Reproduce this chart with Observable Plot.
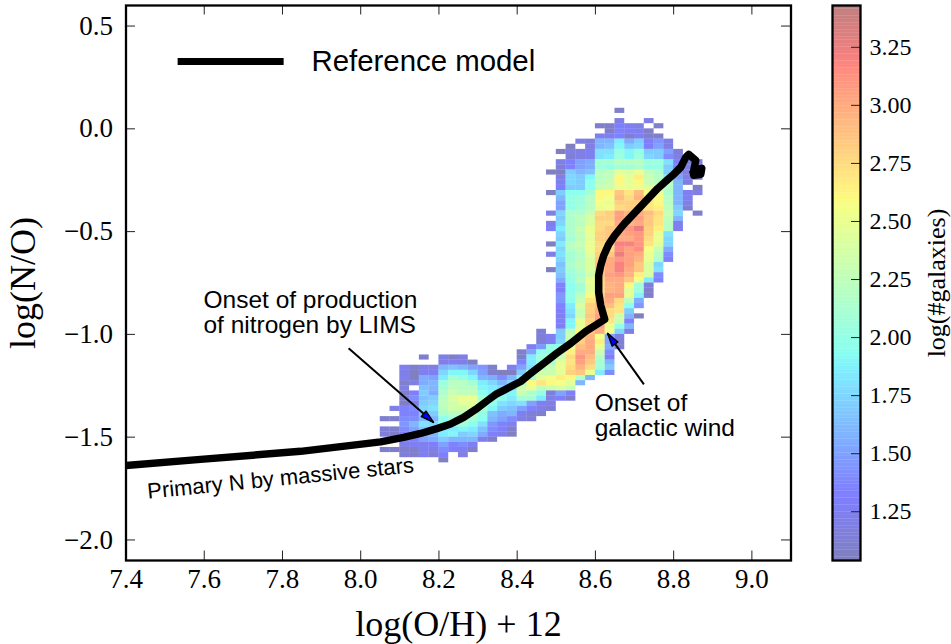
<!DOCTYPE html>
<html><head><meta charset="utf-8">
<script src="https://cdn.jsdelivr.net/npm/d3@7"></script>
<script src="https://cdn.jsdelivr.net/npm/@observablehq/plot@0.6"></script>
<style>
html,body{margin:0;padding:0;background:#fff}
#wrap{position:relative;width:951px;height:644px;overflow:hidden}
#wrap svg{position:absolute;left:0;top:0;background:transparent}
</style></head><body><div id="wrap"></div>
<script>
const xTicks=[7.4,7.6,7.8,8.0,8.2,8.4,8.6,8.8,9.0];
const yTicks=[-2,-1.5,-1,-0.5,0,0.5];
const barTicks=[1.25,1.5,1.75,2,2.25,2.5,2.75,3,3.25];
const binSize=0.025;
// [top edge of row, left edge of first cell, log counts left to right]
const rowsUpper=[
[0.1,8.65,[1.1]],
[0.05,8.65,[1.2,null,null,1.2]],
[0.025,8.6,[1.1,1.1,1.3,1.25,1.2,null,1.1]],
[0,8.625,[1.1,1.35,1.3,1.25,1.1]],
[-0.025,8.6,[1.25,1.25,1.35,1.1,1.25,1.1,1.1]],
[-0.05,8.55,[1.2,1.15,1.6,1.6,1.85,1.55,1.7,1.3,1.45,1.2]],
[-0.075,8.525,[1.05,null,1.2,1.6,1.65,1.9,1.7,1.75,1.3,1.5,1.2]],
[-0.1,8.5,[1.05,1.2,1.2,1.25,1.8,1.8,2.0,1.9,2.0,1.7,1.7,1.5,1.15]],
[-0.125,8.525,[1.15,1.2,1.25,1.8,1.85,2.05,1.9,2.05,1.75,1.7,1.4,1.2]],
[-0.15,8.5,[1.2,1.3,1.5,1.55,2.1,2.1,2.2,2.2,2.2,2.05,2.05,1.8,1.3,1.2,1.2]],
[-0.175,8.5,[1.15,1.35,1.5,1.55,2.05,2.0,2.1,2.1,2.15,2.0,2.0,1.7,1.3,1.2,1.2]],
[-0.2,8.475,[1.05,1.05,1.7,1.6,1.65,2.2,2.25,2.45,2.4,2.5,2.25,2.15,1.7,1.4,1.2,1.2]],
[-0.225,8.5,[1.2,1.75,1.7,1.9,2.2,2.25,2.6,2.45,2.65,2.3,2.2,1.85,1.5,1.2,1.1]],
[-0.25,8.5,[1.25,1.75,1.7,1.95,2.25,2.3,2.6,2.45,2.6,2.3,2.2,2.2,1.6,1.15]],
[-0.275,8.5,[1.3,1.7,1.7,1.95,2.3,2.35,2.5,2.5,2.5,2.45,2.4,2.2,1.6,null,1.05]],
[-0.3,8.475,[1.05,1.7,1.95,1.95,2.1,2.6,2.6,2.85,2.7,2.9,2.55,2.5,2.15,1.6,1.25,1.2]],
[-0.325,8.5,[1.6,2.0,2.05,2.2,2.6,2.55,2.9,2.75,2.95,2.65,2.6,2.2,1.6,1.25]],
[-0.35,8.5,[1.5,2.0,2.05,2.2,2.55,2.5,2.8,2.8,2.8,2.7,2.6,2.2,1.6,1.2]],
[-0.375,8.5,[1.5,2.0,2.1,2.2,2.5,2.55,2.75,2.8,2.8,2.7,2.65,2.25,1.7,1.1]],
[-0.4,8.475,[1.2,1.75,2.15,2.15,2.3,2.75,2.8,3.05,2.95,3.0,2.9,2.75,2.3,1.75,null,1.1]],
[-0.425,8.5,[1.7,2.15,2.25,2.4,2.8,2.8,3.05,3.0,3.05,2.85,2.7,2.25,1.6]],
[-0.45,8.475,[1.2,1.75,2.15,2.2,2.4,2.75,2.75,3.0,2.95,3.0,2.85,2.7,2.2,1.25]],
[-0.475,8.475,[1.3,1.85,2.15,2.3,2.5,2.75,2.85,2.9,3.1,3.25,2.8,2.65,2.2,1.25]],
[-0.5,8.5,[1.75,2.15,2.25,2.5,2.8,2.85,3.0,3.05,3.1,2.8,2.5,1.8]],
[-0.525,8.5,[1.7,2.1,2.25,2.45,2.8,2.85,3.0,3.0,3.1,2.75,2.5,1.75]],
[-0.55,8.475,[1.05,1.85,2.2,2.3,2.5,2.75,2.75,3.2,3.2,3.1,2.7,2.45,1.75]],
[-0.575,8.5,[1.75,2.2,2.25,2.5,2.75,2.75,3.15,3.05,3.15,2.55,2.3,1.55]],
[-0.6,8.475,[1.2,1.8,2.1,2.2,2.45,2.8,2.85,3.25,3.05,3.0,2.5,2.2,1.4]],
[-0.625,8.5,[1.75,2.1,2.2,2.4,2.85,3.0,3.1,3.05,2.95,2.5,2.15,1.35]],
[-0.65,8.5,[1.65,2.15,2.25,2.4,2.85,3.0,3.2,3.05,2.85,2.4,1.75]],
[-0.675,8.475,[1.05,1.7,2.1,2.2,2.4,2.85,3.0,3.2,3.0,2.85,2.4,1.8]],
[-0.7,8.5,[1.65,2.05,2.15,2.35,2.85,3.05,3.1,2.95,2.65,2.4,1.4]],
[-0.725,8.5,[1.55,2.0,2.2,2.5,2.75,3.0,3.0,2.85,2.55,1.85,1.35]]
];
const rowsArm=[
[-0.75,8.5,[1.35,1.95,2.1,2.45,2.75,2.95,3.0,2.6,2.05,1.15]],
[-0.775,8.5,[1.3,1.95,2.1,2.45,2.75,2.95,3.0,2.45,2.05,1.1]],
[-0.8,8.5,[1.45,2.0,2.2,2.6,2.8,3.05,3.05,2.5,1.9,1.1]],
[-0.825,8.5,[1.45,1.95,2.3,2.7,2.85,3.0,2.75,2.2,1.55]],
[-0.85,8.5,[1.35,1.85,2.4,2.8,2.9,2.9,2.7,1.95,1.45]],
[-0.875,8.5,[1.3,1.8,2.3,2.8,3.0,2.75,2.7,1.7]],
[-0.9,8.5,[1.25,1.75,2.3,2.85,3.05,2.75,2.35,1.6,1.05]],
[-0.925,8.5,[1.3,1.9,2.5,2.8,3.1,2.7,2.3,1.35]],
[-0.95,8.5,[1.25,1.9,2.45,2.8,3.05,2.5,2.0,1.6]],
[-0.975,8.45,[1.15,null,1.7,2.25,2.6,2.9,3.0,2.55,1.75,1.2]],
[-1.0,8.45,[1.15,1.25,1.7,2.3,2.85,2.95,2.55,1.5,1.2]],
[-1.025,8.45,[1.15,1.25,1.75,2.4,2.8,3.0,2.65,1.5,1.15]],
[-1.05,8.425,[1.25,1.45,2.0,2.0,2.5,2.9,3.0,2.5,1.55,1.1]],
[-1.075,8.4,[1.1,1.5,1.95,2.0,2.3,2.65,3.0,3.0,2.3,1.4]],
[-1.1,8.15,[1.1,null,1.2,1.1,1.2,null,null,null,null,null,1.1,1.85,2.05,2.2,2.3,2.75,3.1,2.9,2.2,1.3]],
[-1.125,8.2,[1.2,1.25,1.2,1.05,null,null,null,null,1.35,1.85,2.0,2.1,2.45,2.7,3.05,2.85,2.1,1.6]],
[-1.15,8.1,[1.25,1.1,1.2,1.2,1.6,1.65,1.6,1.5,1.45,1.1,null,1.25,1.5,1.8,2.1,2.3,2.5,2.75,2.95,2.75,2.1,1.7]],
[-1.175,8.1,[1.2,1.05,1.25,1.25,1.75,1.9,1.9,1.75,1.5,1.1,1.05,1.05,1.7,2.15,2.35,2.3,2.45,2.8,2.85,2.5,1.85,1.4]]
];
const rowsLower=[
[-1.2,8.1,[1.25,1.05,1.55,1.5,1.85,2.1,2.0,1.9,1.6,1.55,1.4,1.6,1.9,2.1,2.45,2.55,2.65,2.6,2.2,1.6]],
[-1.225,8.1,[1.1,1.2,1.55,1.6,2.05,2.2,2.2,2.1,1.85,1.75,1.6,1.75,2.1,2.6,2.7,2.6,2.55,2.45,1.6]],
[-1.25,8.1,[1.2,null,1.65,1.6,2.1,2.25,2.2,2.2,1.9,1.85,1.75,1.8,2.35,2.5,2.25,2.3,2.4,2.3]],
[-1.275,8.1,[1.1,1.3,1.7,1.55,2.15,2.3,2.25,2.25,1.95,1.85,1.9,1.9,2.3,2.15,2.0,1.15,1.5,1.3]],
[-1.3,8.1,[1.1,1.4,1.65,1.7,2.2,2.4,2.5,2.5,2.1,1.95,1.95,1.85,2.1,2.1,1.85,1.2,1.3,1.1]],
[-1.325,8.1,[1.05,1.2,1.7,1.75,2.25,2.35,2.45,2.45,2.2,2.0,1.8,1.75,1.8,1.5,1.25,1.2]],
[-1.35,8.075,[1.2,1.35,1.4,1.75,1.8,2.2,2.35,2.35,2.4,2.1,1.9,1.7,1.65,1.5,1.35,1.2,1.15]],
[-1.375,8.1,[1.35,1.35,1.65,1.7,2.15,2.2,2.2,2.2,2.0,1.65,1.55,1.6,1.25,1.15,1.1]],
[-1.4,8.05,[1.1,1.1,1.4,1.4,1.6,1.6,1.95,2.1,2.15,2.1,1.95,1.6,1.5,1.4,1.2,1.15]],
[-1.425,8.1,[1.45,1.6,1.8,1.75,2.0,2.05,2.1,1.95,1.8,1.45,1.35,1.25]],
[-1.45,8.05,[1.15,1.1,1.4,1.5,1.7,1.7,1.85,1.85,1.9,1.85,1.65,1.4,1.3,1.1]],
[-1.475,8.05,[1.15,1.1,1.3,1.3,1.5,1.6,1.85,1.9,1.7,1.75,1.55,1.3,1.2,1.05]],
[-1.5,8.1,[1.3,1.35,1.5,1.55,1.7,1.6,1.6,1.6,1.25,1.1]],
[-1.525,8.1,[1.2,1.25,1.25,1.3,1.5,1.35,1.4,1.25]],
[-1.55,8.05,[1.1,1.1,1.1,1.1,1.25,1.2,1.4,1.3,1.25,1.1]],
[-1.575,8.1,[1.15,1.1,1.25,1.15,1.3,null,1.2]],
[-1.6,8.2,[1.05]]
];
const modelX=[7.4,7.5905,7.8463,8.0509,8.1097,8.1532,8.1967,8.2299,8.2453,8.2632,8.2939,8.3246,8.345,8.3655,8.409,8.4345,8.4678,8.501,8.5368,8.5752,8.6238,8.6136,8.6084,8.6084,8.6136,8.6212,8.634,8.6494,8.6724,8.7159,8.7593,8.7824,8.8003,8.8182,8.8309,8.8386,8.8565,8.8514,8.8719,8.8693,8.8514,8.8488];
const modelY=[-1.6375,-1.608,-1.569,-1.523,-1.501,-1.482,-1.457,-1.436,-1.421,-1.404,-1.365,-1.321,-1.292,-1.272,-1.229,-1.19,-1.141,-1.092,-1.044,-0.985,-0.927,-0.859,-0.796,-0.713,-0.664,-0.616,-0.562,-0.518,-0.465,-0.377,-0.29,-0.251,-0.221,-0.187,-0.139,-0.124,-0.153,-0.202,-0.192,-0.221,-0.226,-0.202];
const legendX=[7.532,7.803],legendY=[0.328,0.328];
const arrowsTail=[[7.969,-1.068],[8.724,-1.243]];
const arrowsTip=[[8.186,-1.428],[8.631,-0.995]];
const arrowsAngle=[131,-35];
const notes=[
{x:7.598,y:-0.893,t:"Onset of production\nof nitrogen by LIMS",s:24.5,r:0},
{x:8.598,y:-1.394,t:"Onset of\ngalactic wind",s:24.5,r:0},
{x:7.795,y:-1.7,t:"Primary N by massive stars",s:22,r:-5.7},
{x:7.874,y:0.328,t:"Reference model",s:29.4,r:0}
];
const serif='"Liberation Serif",serif', sans='"Liberation Sans",sans-serif';
const barDomain=[1.04,3.43];
const jetStops=[0,.11,.125,.34,.35,.375,.64,.65,.66,.89,.91,1];
const jetColors=["#000080","#0000ff","#0000ff","#00dbff","#00e6f7","#14ffe2","#eeff08","#f7f600","#ffec00","#ff1300","#e80000","#800000"];
const colorScale={type:"linear",domain:jetStops.map(f=>barDomain[0]+f*(barDomain[1]-barDomain[0])),range:jetColors,interpolate:"rgb"};

const cells=[...rowsUpper,...rowsArm,...rowsLower].flatMap(([top,left,vals])=>
  vals.map((v,i)=>({x1:left+i*binSize,x2:left+(i+1)*binSize,y1:top-binSize,y2:top,v})).filter(c=>c.v!=null));
const model=modelX.map((x,i)=>({x,y:modelY[i]}));
const legendLine=legendX.map((x,i)=>({x,y:legendY[i]}));
const arrows=arrowsTip.map((t,i)=>({x1:arrowsTail[i][0],y1:arrowsTail[i][1],x2:t[0],y2:t[1],a:arrowsAngle[i]}));
const head={draw(c,l,r){c.moveTo(0,-l);c.lineTo(-r,0);c.lineTo(r,0);c.closePath();},r:5.5};

const main=Plot.plot({
  width:951,height:644,marginLeft:125.5,marginRight:160.5,marginTop:5,marginBottom:84,
  style:{background:"transparent",fontFamily:serif},
  x:{domain:[7.4,9.1]},y:{domain:[-2.1,0.6]},color:colorScale,
  marks:[
    Plot.rect(cells,{x1:"x1",x2:"x2",y1:"y1",y2:"y2",fill:"v",fillOpacity:0.5}),
    Plot.line(model,{x:"x",y:"y",stroke:"black",strokeWidth:7.5,strokeLinejoin:"round",strokeLinecap:"butt",curve:"linear"}),
    Plot.line(legendLine,{x:"x",y:"y",stroke:"black",strokeWidth:7,strokeLinecap:"butt"}),
    Plot.link(arrows,{x1:"x1",y1:"y1",x2:"x2",y2:"y2",stroke:"black",strokeWidth:2}),
    Plot.vector(arrows,{x:"x2",y:"y2",rotate:"a",length:13,anchor:"end",shape:head,fill:"#0000ff",stroke:"black",strokeWidth:1.5}),
    ...notes.map(n=>Plot.text([n],{x:"x",y:"y",text:"t",fontSize:n.s,fontFamily:sans,rotate:n.r,textAnchor:n.r?"middle":"start",lineHeight:1.03,fill:"black"})),
    Plot.tickX(xTicks,{x:d=>d,insetTop:545.5,stroke:"#222",strokeWidth:1}),
    Plot.tickX(xTicks,{x:d=>d,insetBottom:545.5,stroke:"#222",strokeWidth:1}),
    Plot.tickY(yTicks,{y:d=>d,insetLeft:655.5,stroke:"#222",strokeWidth:1}),
    Plot.tickY(yTicks,{y:d=>d,insetRight:655.5,stroke:"#222",strokeWidth:1}),
    Plot.frame({stroke:"black",strokeWidth:2.3}),
    Plot.axisX({ticks:xTicks,tickSize:0,tickPadding:8,tickFormat:d3.format(".1f"),fontSize:27,label:null,fill:"black"}),
    Plot.axisX({ticks:[],label:"log(O/H) + 12",labelAnchor:"center",labelArrow:"none",labelOffset:75,fontSize:36,fill:"black"}),
    Plot.axisY({ticks:yTicks,tickSize:0,tickPadding:13,tickFormat:d3.format(".1f"),fontSize:27,label:null,fill:"black"}),
    Plot.axisY({ticks:[],label:"log(N/O)",labelAnchor:"center",labelArrow:"none",labelOffset:117,fontSize:36,fill:"black"})
  ]
});
const bands=d3.range(160).map(i=>{const h=(barDomain[1]-barDomain[0])/160;return {y1:barDomain[0]+i*h,y2:barDomain[0]+(i+1)*h,v:barDomain[0]+(i+.5)*h};});
const bar=Plot.plot({
  width:951,height:644,marginLeft:832,marginRight:91,marginTop:5,marginBottom:84,
  style:{background:"transparent",fontFamily:serif},
  x:{domain:[0,1],axis:null},y:{domain:barDomain},color:colorScale,
  marks:[
    Plot.rect(bands,{x1:0,x2:1,y1:"y1",y2:"y2",fill:"v",fillOpacity:0.5}),
    Plot.tickY(barTicks,{y:d=>d,insetLeft:19,stroke:"#222",strokeWidth:1}),
    Plot.frame({stroke:"black",strokeWidth:2.3}),
    Plot.axisY({anchor:"right",ticks:barTicks,tickSize:0,tickPadding:9,tickFormat:d3.format(".2f"),fontSize:24,label:null,fill:"black"}),
    Plot.axisY({anchor:"right",ticks:[],label:"log(#galaxies)",labelAnchor:"center",labelArrow:"none",labelOffset:84,fontSize:26,fill:"black"})
  ]
});
const wrap=document.getElementById("wrap");
wrap.append(main,bar);
</script></body></html>
